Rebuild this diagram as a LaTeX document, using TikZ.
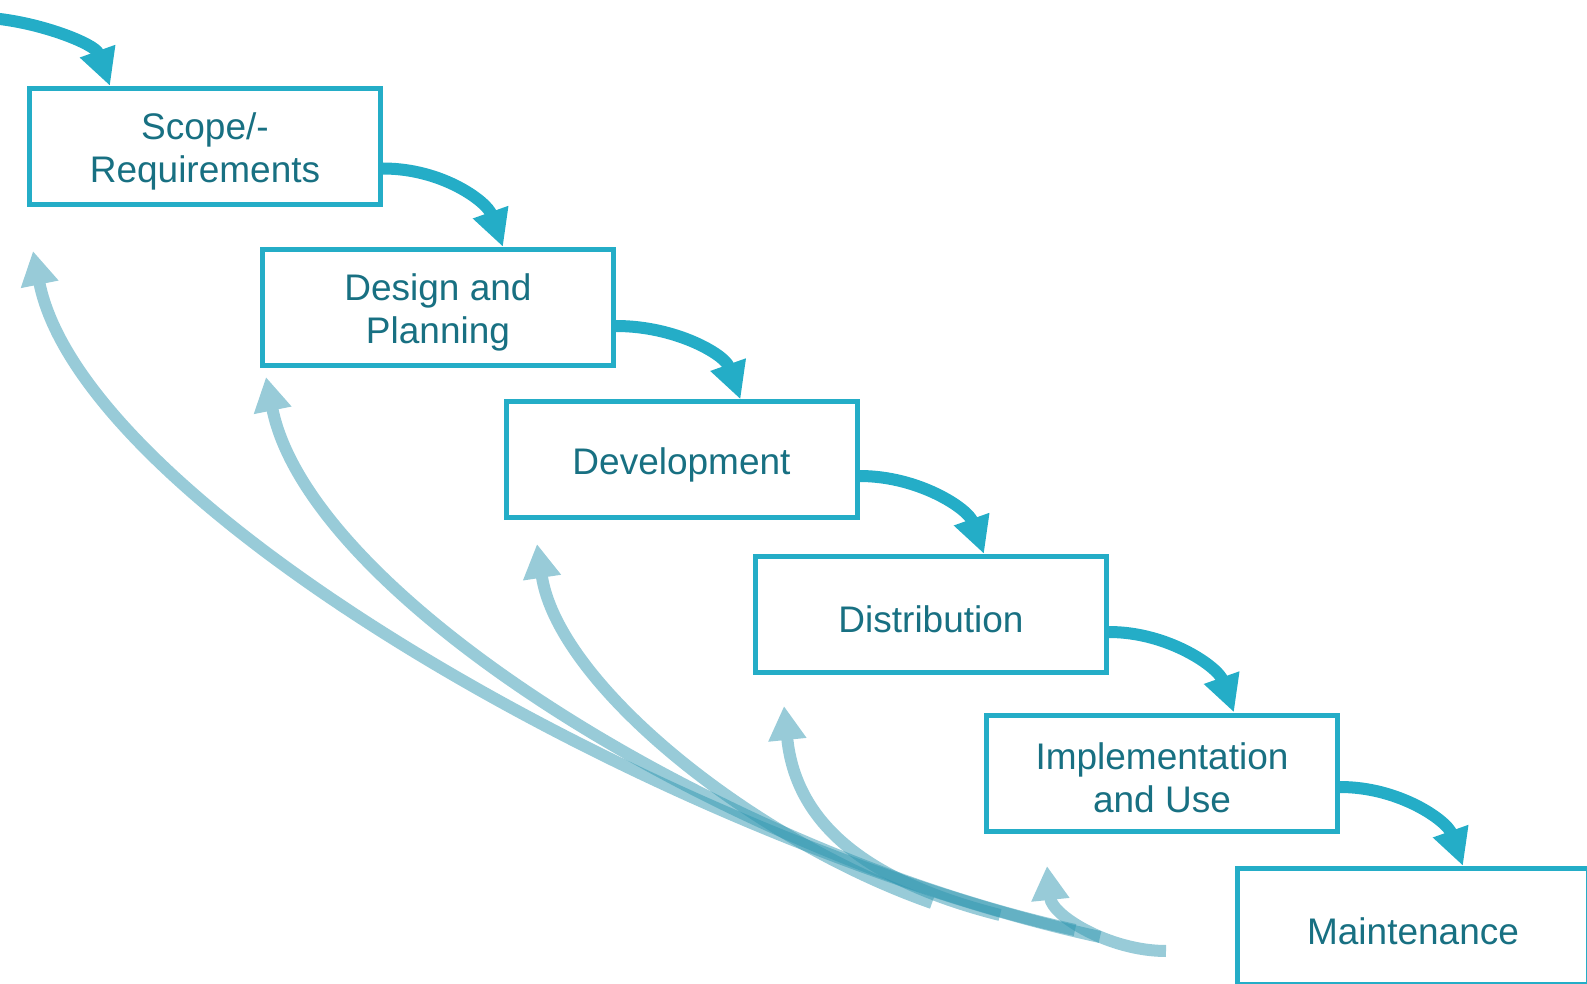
\documentclass[tikz,border=0pt]{standalone}
\usepackage{fontspec}
\setmainfont{Liberation Sans}
\usetikzlibrary{arrows.meta,calc}
\definecolor{boxc}{RGB}{36,173,199}
\definecolor{txtc}{RGB}{24,112,130}
\definecolor{backc}{RGB}{49,151,177}
\begin{document}
\begin{tikzpicture}[x=0.5pt,y=-0.5pt,
  stage/.style={draw=boxc, line width=2.5pt, fill=white, minimum width=175.5pt, minimum height=58pt, inner sep=0pt},
  stagetext/.style={inner sep=0pt, align=center, text=txtc, font=\fontsize{18.5}{21.25}\selectfont, yshift=-2.5pt},
  fwd/.style={draw=boxc, line width=6pt, -{Triangle[width=17.5pt,length=18.5pt]}},
  back/.style={draw=backc, line width=6pt, -{Triangle[width=18pt,length=17pt]}},
  backgrp/.style={transparency group, opacity=0.5}
]
\useasboundingbox (0,0) rectangle (1587,984);

% stages
\node[stage, label={[stagetext]center:{Scope/-\\Requirements}}] (b1) at (205,146.5) {};
\node[stage, label={[stagetext]center:{Design and\\Planning}}] (b2) at (438,307.5) {};
\node[stage, label={[stagetext]center:{Development}}] (b3) at (681.5,460) {};
\node[stage, label={[stagetext]center:{Distribution}}] (b4) at (931,614.5) {};
\node[stage, label={[stagetext]center:{Implementation\\and Use}}] (b5) at (1162,773) {};
\node[stage, label={[stagetext]center:{Maintenance}}] (b6) at (1413,926.5) {};

% incoming arrow
\coordinate (in0) at (-10,18);
\draw[fwd] (in0) .. controls (40,22) and ($(b1.north west)+(68,-42)$) .. ($(b1.north west)+(83,0)$);

% forward arrows
\draw[fwd] ($(b1.east)+(0,22)$) .. controls ($(b1.east)+(60,22)$) and ($(b2.north west)+(227,-45)$) .. ($(b2.north west)+(243,0)$);
\draw[fwd] ($(b2.east)+(0,18.5)$) .. controls ($(b2.east)+(60,18.5)$) and ($(b3.north west)+(221,-45)$) .. ($(b3.north west)+(237,0)$);
\draw[fwd] ($(b3.east)+(0,16)$) .. controls ($(b3.east)+(60,16)$) and ($(b4.north west)+(215,-45)$) .. ($(b4.north west)+(231,0)$);
\draw[fwd] ($(b4.east)+(0,17.5)$) .. controls ($(b4.east)+(60,17.5)$) and ($(b5.north west)+(234,-45)$) .. ($(b5.north west)+(250,0)$);
\draw[fwd] ($(b5.east)+(0,14)$) .. controls ($(b5.east)+(60,14)$) and ($(b6.north west)+(212,-45)$) .. ($(b6.north west)+(228,0)$);

% feedback arrows
\coordinate (s1) at (1100,937); \coordinate (t1) at (33,251);
\coordinate (s2) at (1075,930); \coordinate (t2) at (266,377);
\coordinate (s3) at (932,903);  \coordinate (t3) at (537,544);
\coordinate (s4) at (1000,915); \coordinate (t4) at (784,706);
\coordinate (s5) at (1166,951); \coordinate (t5) at (1047,866);

\begin{scope}[backgrp]
\draw[back] (s1) .. controls (680,845) and (85,511) .. (t1);
\end{scope}
\begin{scope}[backgrp]
\draw[back] (s2) .. controls (725,853) and (310,597) .. (t2);
\end{scope}
\begin{scope}[backgrp]
\draw[back] (s3) .. controls (752,840) and (558,684) .. (t3);
\end{scope}
\begin{scope}[backgrp]
\draw[back] (s4) .. controls (870,882) and (796,826) .. (t4);
\end{scope}
\begin{scope}[backgrp]
\draw[back] (s5) .. controls (1110,951) and (1052,916) .. (t5);
\end{scope}
\end{tikzpicture}
\end{document}
